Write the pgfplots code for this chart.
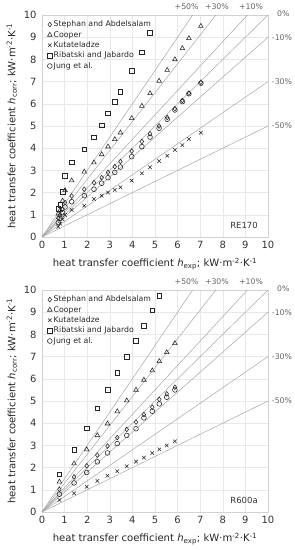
\documentclass[border=0pt]{standalone}
\usepackage{fontspec}
\setmainfont{DejaVu Sans}
\usepackage{pgfplots}
\usepackage{pgfplotstable}
\pgfplotsset{compat=1.18}

% top panel: RE170
\pgfplotstableread{
x    D    T    K    S    C
0.72 0.85 1.05 0.46 1.26 0.65
0.80 1.00 1.20 0.60 1.45 0.85
0.91 1.25 1.63 0.80 2.05 1.10
1.02 1.55 2.10 0.99 2.75 1.35
1.31 1.85 2.54 1.22 3.36 1.59
1.87 2.15 2.94 1.41 3.95 1.86
2.30 2.45 3.35 1.71 4.50 2.15
2.64 2.67 3.72 1.86 5.04 2.42
2.92 2.91 4.07 2.00 5.58 2.67
3.22 3.17 4.40 2.12 6.08 2.91
3.47 3.40 4.70 2.24 6.53 3.15
3.97 3.87 5.35 2.54 7.48 3.62
4.42 4.30 5.90 2.87 8.33 4.07
4.78 4.65 6.47 3.14 9.19 4.50
5.18 5.00 7.03 3.42 nan  4.90
5.54 5.38 7.52 3.66 nan  5.30
5.88 5.78 8.00 3.92 nan  5.72
6.21 6.15 8.50 4.14 nan  6.10
6.50 6.48 8.95 4.41 nan  6.45
7.03 6.97 9.50 4.70 nan  6.93
}\topdata

% bottom panel: R600a
\pgfplotstableread{
x    D    T    K    S    C
0.77 1.02 1.36 0.54 1.70 0.80
1.42 1.58 2.18 0.84 2.81 1.31
1.98 2.08 2.81 1.14 3.78 1.78
2.45 2.56 3.45 1.40 4.68 2.26
2.90 2.97 3.98 1.63 5.50 2.66
3.33 3.35 4.53 1.84 6.26 3.08
3.75 3.72 5.02 2.06 7.00 3.45
4.16 4.05 5.50 2.27 7.71 3.75
4.51 4.39 5.95 2.45 8.40 4.24
4.88 4.72 6.37 2.66 9.09 4.54
5.19 5.07 6.79 2.82 9.73 4.87
5.52 5.32 7.19 3.00 nan  5.17
5.88 5.62 7.60 3.18 nan  5.50
}\botdata

\tikzset{
  lbl/.style={font=\fontsize{7.8}{9}\selectfont, text=black!60, inner sep=0pt},
}
\pgfplotsset{
  refline/.style={gray!70, line width=0.5pt, forget plot},
  ser/.style={only marks, black!85, line width=0.55pt, mark options={solid, fill=none}},
  panel/.style={
    scale only axis, width=226bp, height=222bp,
    xmin=0, xmax=10, ymin=0, ymax=10,
    xtick={0,1,...,10}, ytick={0,1,...,10},
    grid=major, major grid style={gray!18, line width=0.4pt},
    axis line style={gray!35},
    tick style={draw=none},
    tick label style={font=\fontsize{10}{11}\selectfont, text=black!80},
    yticklabel style={xshift=-2bp},
    xticklabel style={yshift=-1bp},
    /pgf/number format/assume math mode=true,
    label style={font=\fontsize{10.1}{12}\selectfont, text=black!85},
    xlabel style={yshift=-2bp},
    ylabel style={yshift=0bp},
    xlabel={heat transfer coefficient \textit{h}\textsubscript{exp}; kW·m\textsuperscript{-2}·K\textsuperscript{-1}},
    ylabel={heat transfer coefficient \textit{h}\textsubscript{corr}; kW·m\textsuperscript{-2}·K\textsuperscript{-1}},
    clip=false,
    legend cell align=left,
    legend style={at={(0.01,0.99)}, anchor=north west, draw=none, fill=none,
      font=\fontsize{7.8}{9}\selectfont, text=black!85, row sep=0pt,
      nodes={inner sep=1.5pt}},
    legend image code/.code={\draw plot coordinates {(0.06cm,0cm)};},
  }
}

\newcommand{\reflines}{
  \addplot[refline] coordinates {(0,0) (10,10)};
  \addplot[refline] coordinates {(0,0) (9.0909,10)};
  \addplot[refline] coordinates {(0,0) (7.6923,10)};
  \addplot[refline] coordinates {(0,0) (6.6667,10)};
  \addplot[refline] coordinates {(0,0) (10,9)};
  \addplot[refline] coordinates {(0,0) (10,7)};
  \addplot[refline] coordinates {(0,0) (10,5)};
  \node[lbl] at (axis cs:6.40,10.36) {+50\%};
  \node[lbl] at (axis cs:7.74,10.36) {+30\%};
  \node[lbl] at (axis cs:9.25,10.36) {+10\%};
  \node[lbl] at (axis cs:10.68,10.08) {0\%};
  \node[lbl] at (axis cs:10.62,9.0) {-10\%};
  \node[lbl] at (axis cs:10.62,7.0) {-30\%};
  \node[lbl] at (axis cs:10.62,5.0) {-50\%};
}

\begin{document}
\begin{tikzpicture}
\useasboundingbox (0,0) rectangle (295bp,550bp);

\begin{axis}[panel, at={(42bp,313bp)}, anchor=south west]
  \addplot[ser, mark=diamond, mark size=2.4pt] table[x=x, y=D] {\topdata};
  \addlegendentry{Stephan and Abdelsalam}
  \addplot[ser, mark=triangle, mark size=2.7pt] table[x=x, y=T] {\topdata};
  \addlegendentry{Cooper}
  \addplot[ser, mark=x, mark size=2.5pt] table[x=x, y=K] {\topdata};
  \addlegendentry{Kutateladze}
  \addplot[ser, mark=square, mark size=2.3pt] table[x=x, y=S] {\topdata};
  \addlegendentry{Ribatski and Jabardo}
  \addplot[ser, mark=o, mark size=2.4pt] table[x=x, y=C] {\topdata};
  \addlegendentry{Jung et al.}
  \reflines
  \node[font=\fontsize{8.5}{9}\selectfont, text=black!80, anchor=east] at (axis cs:9.7,0.5) {RE170};
\end{axis}

\begin{axis}[panel, at={(42bp,38bp)}, anchor=south west]
  \addplot[ser, mark=diamond, mark size=2.4pt] table[x=x, y=D] {\botdata};
  \addlegendentry{Stephan and Abdelsalam}
  \addplot[ser, mark=triangle, mark size=2.7pt] table[x=x, y=T] {\botdata};
  \addlegendentry{Cooper}
  \addplot[ser, mark=x, mark size=2.5pt] table[x=x, y=K] {\botdata};
  \addlegendentry{Kutateladze}
  \addplot[ser, mark=square, mark size=2.3pt] table[x=x, y=S] {\botdata};
  \addlegendentry{Ribatski and Jabardo}
  \addplot[ser, mark=o, mark size=2.4pt] table[x=x, y=C] {\botdata};
  \addlegendentry{Jung et al.}
  \reflines
  \node[font=\fontsize{8.5}{9}\selectfont, text=black!80, anchor=east] at (axis cs:9.7,0.54) {R600a};
\end{axis}
\end{tikzpicture}
\end{document}
